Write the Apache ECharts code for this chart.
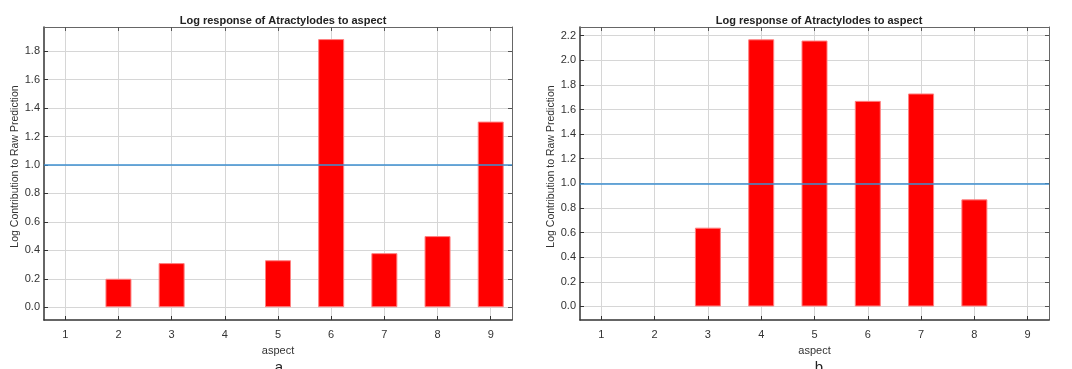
<!DOCTYPE html>
<html>
<head>
<meta charset="utf-8">
<script src="https://cdn.jsdelivr.net/npm/echarts@6/dist/echarts.min.js"></script>
<style>html,body{margin:0;padding:0;background:#fff}#c{width:1072px;height:369px}</style>
</head>
<body>
<div id="c"></div>
<script>
var chartTitle = 'Log response of Atractylodes to aspect';
var xName = 'aspect';
var yName = 'Log Contribution to Raw Prediction';
var panelLetters = ['a', 'b'];
var xTicks = [1, 2, 3, 4, 5, 6, 7, 8, 9];
var yTicksA = [0, 0.2, 0.4, 0.6, 0.8, 1.0, 1.2, 1.4, 1.6, 1.8];
var yTicksB = [0, 0.2, 0.4, 0.6, 0.8, 1.0, 1.2, 1.4, 1.6, 1.8, 2.0, 2.2];
var aspectA = [2, 3, 5, 6, 7, 8, 9];
var valuesA = [0.20, 0.31, 0.33, 1.885, 0.38, 0.50, 1.305];
var aspectB = [3, 4, 5, 6, 7, 8];
var valuesB = [0.64, 2.17, 2.16, 1.67, 1.73, 0.87];
var refLine = 1.0;
var xRange = [0.6, 9.4];
var yRangeA = [-0.09, 1.97];
var yRangeB = [-0.11, 2.27];

function pairs(xs, ys) { return xs.map(function (x, i) { return [x, ys[i]]; }); }

var labelStyle = { color: '#333', fontSize: 11, fontFamily: 'Liberation Sans, Arial, sans-serif' };
var splitStyle = { show: true, lineStyle: { color: '#d6d6d6', width: 1 } };

function xAxes(gi) {
  return [{
    type: 'value', gridIndex: gi, min: xRange[0], max: xRange[1], position: 'bottom',
    name: xName, nameLocation: 'middle', nameGap: 25,
    nameTextStyle: { color: '#333', fontSize: 11, fontFamily: 'Liberation Sans, Arial, sans-serif' },
    axisLine: { show: true, onZero: false, lineStyle: { color: '#333', width: 1.5 } },
    axisTick: { show: true, inside: true, length: 4, customValues: xTicks, lineStyle: { color: '#333' } },
    axisLabel: Object.assign({ customValues: xTicks, margin: 9, formatter: function (v) { return String(v); } }, labelStyle),
    splitLine: splitStyle
  }, {
    type: 'value', gridIndex: gi, min: xRange[0], max: xRange[1], position: 'top',
    axisLine: { show: true, onZero: false, lineStyle: { color: '#666', width: 1 } },
    axisTick: { show: true, inside: true, length: 4, customValues: xTicks, lineStyle: { color: '#555' } },
    axisLabel: { show: false }, splitLine: { show: false }
  }];
}
function yAxes(gi, rng, ticks) {
  return [{
    type: 'value', gridIndex: gi, min: rng[0], max: rng[1], position: 'left',
    name: yName, nameLocation: 'middle', nameGap: 20, nameRotate: 90,
    nameTextStyle: { color: '#333', fontSize: 10.5, fontFamily: 'Liberation Sans, Arial, sans-serif', padding: [0, 0, 0, 14] },
    axisLine: { show: true, onZero: false, lineStyle: { color: '#333', width: 1.5 } },
    axisTick: { show: true, inside: true, length: 4, customValues: ticks, lineStyle: { color: '#333' } },
    axisLabel: Object.assign({ customValues: ticks, margin: 4, formatter: function (v) { return v.toFixed(1); } }, labelStyle),
    splitLine: splitStyle
  }, {
    type: 'value', gridIndex: gi, min: rng[0], max: rng[1], position: 'right',
    axisLine: { show: true, onZero: false, lineStyle: { color: '#666', width: 1 } },
    axisTick: { show: true, inside: true, length: 4, customValues: ticks, lineStyle: { color: '#555' } },
    axisLabel: { show: false }, splitLine: { show: false }
  }];
}
function barSeries(xi, yi, data) {
  return {
    type: 'bar', xAxisIndex: xi, yAxisIndex: yi, data: data, barWidth: 26,
    itemStyle: { color: '#ff0000', borderColor: '#ff8080', borderWidth: 1 },
    silent: true, animation: false,
    markLine: {
      silent: true, symbol: ['none', 'none'], label: { show: false },
      lineStyle: { color: '#3c8fd0', width: 1.5, type: 'solid' },
      data: [{ yAxis: refLine }]
    }
  };
}

var chart = echarts.init(document.getElementById('c'), null, { renderer: 'canvas' });
chart.setOption({
  animation: false,
  title: [
    { text: chartTitle, left: 278, top: 10, textAlign: 'center', textStyle: { fontSize: 11, fontWeight: 'bold', color: '#222', fontFamily: 'Liberation Sans, Arial, sans-serif' } },
    { text: chartTitle, left: 814, top: 10, textAlign: 'center', textStyle: { fontSize: 11, fontWeight: 'bold', color: '#222', fontFamily: 'Liberation Sans, Arial, sans-serif' } },
    { text: panelLetters[0], left: 274, top: 355, textAlign: 'center', textStyle: { fontSize: 15, fontWeight: 'normal', color: '#222', fontFamily: 'Liberation Sans, Arial, sans-serif' } },
    { text: panelLetters[1], left: 814, top: 355, textAlign: 'center', textStyle: { fontSize: 15, fontWeight: 'normal', color: '#222', fontFamily: 'Liberation Sans, Arial, sans-serif' } }
  ],
  grid: [
    { left: 44, right: 560, top: 27, bottom: 49 },
    { left: 580, right: 23, top: 27, bottom: 49 }
  ],
  xAxis: xAxes(0).concat(xAxes(1)),
  yAxis: yAxes(0, yRangeA, yTicksA).concat(yAxes(1, yRangeB, yTicksB)),
  series: [
    barSeries(0, 0, pairs(aspectA, valuesA)),
    barSeries(2, 2, pairs(aspectB, valuesB))
  ]
});
</script>
</body>
</html>
